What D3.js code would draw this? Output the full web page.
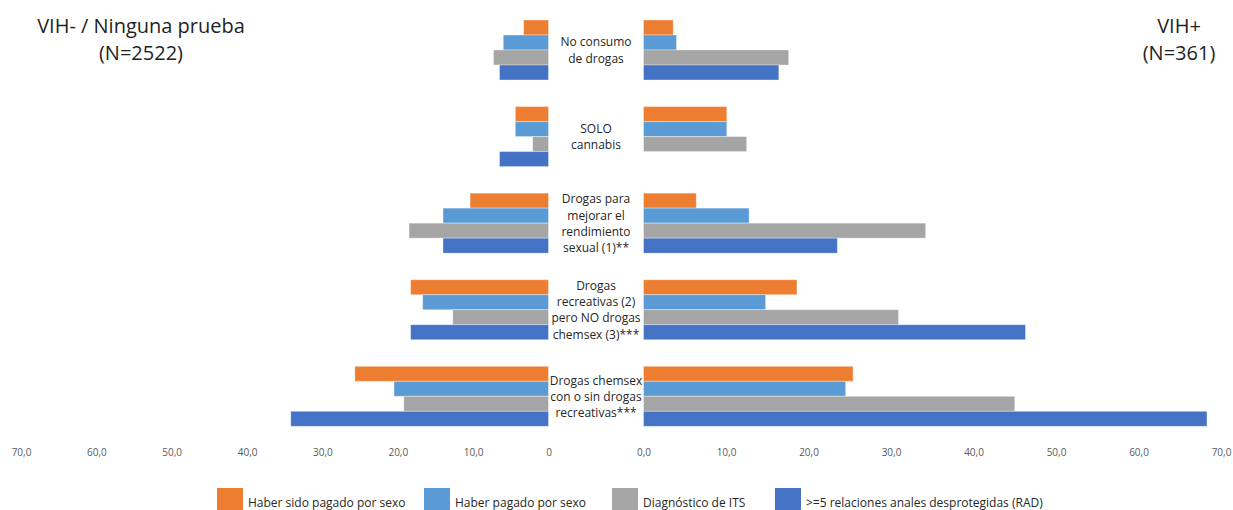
<!DOCTYPE html>
<html>
<head>
<meta charset="utf-8">
<script src="https://cdn.jsdelivr.net/npm/d3@7"></script>
<style>
  html, body { margin: 0; padding: 0; background: #fff; }
  svg { display: block; font-family: "Open Sans", "Noto Sans", sans-serif; }
</style>
</head>
<body>
<svg id="chart" width="1233" height="510"></svg>
<script>
// Drug-use groups (one label line per entry)
const categories = [
  ["No consumo", "de drogas"],
  ["SOLO", "cannabis"],
  ["Drogas para", "mejorar el", "rendimiento", "sexual (1)**"],
  ["Drogas", "recreativas (2)", "pero NO drogas", "chemsex (3)***"],
  ["Drogas chemsex", "con o sin drogas", "recreativas***"]
];

const seriesNames = [
  "Haber sido pagado por sexo",
  "Haber pagado por sexo",
  "Diagnóstico de ITS",
  ">=5 relaciones anales desprotegidas (RAD)"
];
const seriesColors = ["#ED7D31", "#5B9BD5", "#A5A5A5", "#4472C4"];

// VIH- / Ninguna prueba (%), one array per series
const negPaid      = [3.3, 4.4, 10.4, 18.3, 25.7];
const negPaying    = [6.0, 4.4, 14.0, 16.7, 20.5];
const negSTI       = [7.3, 2.1, 18.5, 12.7, 19.2];
const negRAD       = [6.5, 6.5, 14.0, 18.3, 34.2];

// VIH+ (%), one array per series
const posPaid      = [3.6, 10.1, 6.4, 18.6, 25.4];
const posPaying    = [4.0, 10.1, 12.8, 14.8, 24.5];
const posSTI       = [17.6, 12.5, 34.2, 30.9, 45.0];
const posRAD       = [16.4, 0, 23.5, 46.3, 68.3];

const tickValues = [0, 10, 20, 30, 40, 50, 60, 70];
const leftTitle  = ["VIH- / Ninguna prueba", "(N=2522)"];
const rightTitle = ["VIH+", "(N=361)"];

const negSeries = [negPaid, negPaying, negSTI, negRAD];
const posSeries = [posPaid, posPaying, posSTI, posRAD];

const svg = d3.select("#chart");

const locale = d3.formatLocale({ decimal: ",", thousands: ".", grouping: [3], currency: ["", "€"] });
const fmt1 = locale.format(".1f");

// Mirrored horizontal scales
const xL = d3.scaleLinear().domain([0, 70]).range([548.5, 21]);
const xR = d3.scaleLinear().domain([0, 70]).range([643.5, 1221]);

const catIdx = d3.range(categories.length);
const y = d3.scaleBand().domain(catIdx).range([6.7, 439.6])
  .paddingInner(0.307).paddingOuter(0.1535);
const ySub = d3.scaleBand().domain(d3.range(seriesNames.length)).range([0, y.bandwidth()]);

function drawSide(seriesList, x, isLeft) {
  const g = svg.append("g");
  seriesList.forEach((vals, s) => {
    g.selectAll(null)
      .data(vals.map((v, i) => ({ v, i })).filter(d => d.v > 0))
      .join("rect")
      .attr("x", d => isLeft ? x(d.v) : x(0))
      .attr("width", d => Math.abs(x(d.v) - x(0)))
      .attr("y", d => y(d.i) + ySub(s))
      .attr("height", ySub.bandwidth())
      .attr("fill", seriesColors[s])
      .attr("stroke", "#ffffff")
      .attr("stroke-opacity", 0.35)
      .attr("stroke-width", 1);
  });
}
drawSide(negSeries, xL, true);
drawSide(posSeries, xR, false);

// Axes (labels only)
const axisY = 441;
const axL = d3.axisBottom(xL).tickValues(tickValues).tickSize(0).tickPadding(8)
  .tickFormat(d => d === 0 ? "0" : fmt1(d));
const axR = d3.axisBottom(xR).tickValues(tickValues).tickSize(0).tickPadding(8)
  .tickFormat(d => fmt1(d));
[axL, axR].forEach(ax => {
  const g = svg.append("g").attr("transform", `translate(0,${axisY})`).call(ax);
  g.select(".domain").remove();
  g.selectAll("text")
    .attr("fill", "#595959")
    .style("font-family", "'Open Sans', sans-serif")
    .style("font-size", "10px");
});

// Category labels in the centre gutter
const cx = (xL(0) + xR(0)) / 2;
const lineH = 16.3;
catIdx.forEach(i => {
  const lines = categories[i];
  const mid = y(i) + y.bandwidth() / 2;
  const t = svg.append("text")
    .attr("text-anchor", "middle")
    .attr("fill", "#262626")
    .style("font-size", "12px");
  lines.forEach((ln, k) => {
    t.append("tspan")
      .attr("x", cx)
      .attr("y", mid + (k - (lines.length - 1) / 2) * lineH + 4.5)
      .text(ln);
  });
});

// Group titles
function title(lines, xc) {
  const t = svg.append("text").attr("text-anchor", "middle").attr("fill", "#1f1f1f")
    .style("font-size", "20px");
  lines.forEach((ln, k) => {
    t.append("tspan").attr("x", xc).attr("y", 33 + k * 27).text(ln);
  });
}
title(leftTitle, 141);
title(rightTitle, 1179);

// Legend along the bottom edge
const legendX = [217, 424, 612, 775];
const items = svg.append("g").selectAll("g").data(seriesNames).join("g")
  .attr("transform", (d, i) => `translate(${legendX[i]},0)`);
items.append("rect").attr("width", 26).attr("height", 26).attr("y", 488)
  .attr("fill", (d, i) => seriesColors[i]);
items.append("text").attr("x", 31).attr("y", 507).attr("fill", "#262626")
  .style("font-size", "12px").text(d => d);
</script>
</body>
</html>
